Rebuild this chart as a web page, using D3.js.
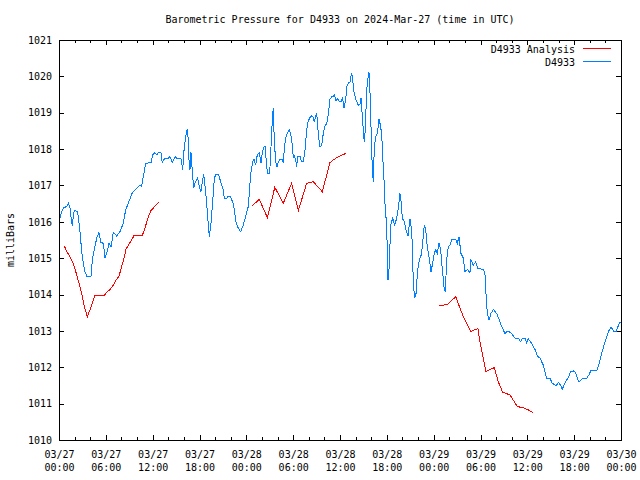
<!DOCTYPE html>
<html><head><meta charset="utf-8">
<script src="https://cdn.jsdelivr.net/npm/d3@7"></script>
<style>
body{margin:0;background:#fff}
svg{display:block;background:#fff}
text{font-family:"DejaVu Sans Mono","Liberation Mono",monospace;font-size:10px;fill:#000}
</style>
</head><body>
<svg id="c" width="640" height="480"></svg>
<script>
const titleText = "Barometric Pressure for D4933 on 2024-Mar-27 (time in UTC)";
const yLabelText = "milliBars";
const seriesNames = ["D4933 Analysis", "D4933"];
const seriesColors = ["#ff0000", "#0080ff"];
const yTickValues = d3.range(1010, 1022, 1);
const xMajorHours = d3.range(0, 73, 6);
const xMinorHours = d3.range(0, 73, 2).filter(h => h % 6 !== 0);
const startUTC = Date.UTC(2024, 2, 27, 0, 0);

// Station observations (hours after 03/27 00:00 UTC, millibars)
const blueHours = [0.13,0.35,0.64,0.99,1.19,1.41,1.63,1.76,1.83,2.05,2.34,2.47,2.69,2.91,3.11,3.33,3.55,4.10,4.27,4.52,4.83,5.12,5.38,5.68,5.89,6.11,6.41,6.66,6.96,7.39,7.81,8.24,8.54,8.88,9.39,9.95,10.38,10.59,10.80,11.11,11.79,12.00,12.21,12.52,12.72,13.07,13.23,13.49,14.00,14.22,14.51,14.86,15.21,15.63,15.85,16.05,16.36,16.49,16.65,16.78,16.91,17.13,17.26,17.42,17.77,17.97,18.19,18.36,18.54,18.70,18.92,19.13,19.26,19.47,19.69,19.90,20.11,20.41,20.72,21.05,21.18,21.48,21.69,
21.91,22.33,22.68,22.97,23.28,23.61,23.96,24.25,24.47,24.60,
24.82,24.98,25.20,25.40,25.66,25.88,26.04,26.17,26.39,26.61,
26.74,26.94,27.03,27.20,27.33,27.45,27.58,27.76,27.93,28.09,
28.31,28.61,28.73,28.86,29.04,29.25,29.50,29.68,29.89,30.02,
30.14,30.32,30.45,30.58,30.87,31.09,31.30,31.52,31.73,31.94,
32.16,32.37,32.58,32.71,32.89,33.02,33.14,33.31,33.44,33.66,
33.86,34.04,34.30,34.50,34.72,34.94,35.14,35.27,35.49,35.65,
35.87,36.13,36.34,36.51,36.73,36.86,37.06,37.28,37.50,37.63,
37.79,38.05,38.34,38.56,38.69,38.86,38.98,39.11,39.24,39.42,
39.58,39.71,39.84,39.97,40.14,40.27,40.39,40.57,40.78,41.00,
41.12,41.34,
41.47,41.64,41.76,41.98,42.15,42.31,42.49,42.75,43.01,43.26,
43.47,43.68,43.81,43.98,44.24,44.45,44.71,44.97,45.10,45.26,
45.39,45.57,45.74,45.95,46.16,46.41,46.59,46.80,46.98,47.18,
47.40,47.66,47.87,48.08,48.26,48.46,48.68,48.90,49.10,49.32,
49.49,49.67,49.87,50.09,50.31,50.82,51.03,51.24,51.50,51.80,
52.01,52.31,52.65,52.78,53.08,53.38,53.64,54.36,54.57,54.70,
54.87,55.09,55.34,55.64,56.07,56.41,56.71,57.14,57.35,57.65,
57.87,58.12,58.42,58.84,59.15,59.40,59.70,59.91,60.12,60.56,
60.98,61.28,61.62,62.04,62.48,62.90,63.20,63.54,63.76,63.97,
64.27,64.48,64.69,65.04,65.34,65.55,65.89,66.19,66.40,66.62,
66.87,67.09,67.60,67.90,68.12,68.88,69.09,69.31,69.65,69.95,
70.24,70.50,70.72,70.93,71.10,71.36,71.52,71.78,72.00];
const blueValues = [1016.10,1016.28,1016.39,1016.42,1016.51,1016.37,1015.96,1015.91,1016.23,1016.31,1016.28,1016.14,1015.73,1015.18,1014.86,1014.63,1014.51,1014.51,1014.95,1015.23,1015.55,1015.71,1015.43,1015.41,1015.00,1015.13,1015.41,1015.30,1015.71,1015.61,1015.73,1015.96,1016.33,1016.51,1016.80,1016.92,1017.01,1016.97,1017.24,1017.61,1017.63,1017.84,1017.90,1017.84,1017.91,1017.90,1017.63,1017.73,1017.75,1017.79,1017.63,1017.79,1017.73,1017.73,1017.43,1018.07,1018.51,1018.53,1017.70,1017.43,1017.91,1017.24,1016.92,1017.06,1017.20,1016.97,1016.83,1017.10,1017.31,1017.01,1016.51,1015.91,1015.59,1015.96,1016.55,1017.20,1017.31,1017.31,1017.10,1016.88,1016.63,1016.63,1016.71,
1016.71,1016.51,1016.00,1015.82,1015.73,1015.91,1016.19,1016.42,1017.06,1017.38,
1017.65,1017.72,1017.56,1017.84,1017.90,1017.63,1017.88,1018.02,1018.09,1017.52,
1017.32,1017.32,1017.50,1018.23,1018.82,1019.12,1018.25,1017.65,1017.52,1017.65,
1017.72,1017.72,1017.61,1017.99,1018.30,1018.43,1018.53,1018.43,1018.11,1017.75,
1017.81,1017.72,1017.52,1017.79,1017.81,1017.65,1017.65,1017.98,1018.53,1018.78,
1018.87,1018.91,1018.87,1018.75,1018.91,1019.00,1018.62,1018.25,1018.05,1018.11,
1018.43,1018.62,1018.71,1018.94,1019.37,1019.44,1019.44,1019.49,1019.33,1019.40,
1019.32,1019.30,1019.40,1019.14,1019.35,1019.72,1019.81,1019.85,1020.10,1019.90,
1019.58,1019.35,1019.21,1019.24,1019.40,1018.89,1018.53,1018.20,1018.53,1019.63,
1019.95,1020.13,1019.58,1018.62,1017.43,1017.10,1018.02,1018.34,1018.43,1018.82,
1018.71,1018.43,
1017.79,1017.15,1016.51,1015.87,1014.40,1014.77,1015.91,1016.10,1015.91,1016.10,
1016.37,1016.78,1016.60,1016.10,1016.00,1015.78,1015.61,1016.07,1015.87,1015.45,
1014.31,1013.90,1014.03,1014.68,1014.95,1015.09,1015.41,1015.91,1015.78,1015.32,
1015.04,1014.63,1014.86,1015.13,1015.23,1015.13,1015.41,1015.23,1014.72,1014.22,
1014.08,1014.95,1015.32,1015.36,1015.52,1015.52,1015.41,1015.59,1015.13,1015.00,
1014.63,1014.69,1014.60,1014.95,1014.81,1014.90,1014.72,1014.69,1014.58,1014.03,
1013.48,1013.30,1013.48,1013.59,1013.48,1013.30,1013.12,1012.93,1012.98,1012.98,
1012.95,1012.89,1012.80,1012.80,1012.70,1012.80,1012.80,1012.68,1012.78,1012.66,
1012.49,1012.31,1012.25,1012.06,1011.70,1011.70,1011.56,1011.51,1011.51,1011.58,
1011.51,1011.39,1011.51,1011.65,1011.76,1011.88,1011.90,1011.85,1011.70,1011.59,
1011.65,1011.70,1011.70,1011.79,1011.90,1011.90,1012.02,1012.20,1012.48,1012.70,
1012.89,1013.03,1013.10,1013.04,1012.98,1012.98,1013.07,1013.21,1013.25];

// Analysis series (null marks a gap between runs)
const redHours = [0.68,0.99,1.28,1.63,1.96,2.27,2.56,2.91,3.24,3.63,3.97,4.32,4.61,5.76,6.11,6.53,6.96,7.26,7.69,8.03,8.37,8.58,8.88,9.22,9.61,10.67,10.93,11.24,11.53,11.79,12.13,12.39,12.77,
 18.0,
 24.76,25.66,26.69,27.65,28.73,29.81,30.66,31.73,32.58,33.73,34.72,35.14,35.78,36.73,
 42.0,
 48.72,49.23,49.79,50.82,51.80,52.74,53.29,53.68,53.93,54.70,55.22,55.77,56.28,56.84,57.27,57.78,58.71,59.40,60.12,60.76];
const redValues = [1015.34,1015.18,1015.09,1014.95,1014.77,1014.54,1014.31,1014.03,1013.67,1013.39,1013.58,1013.80,1013.97,1013.97,1014.06,1014.14,1014.26,1014.38,1014.51,1014.77,1015.04,1015.24,1015.36,1015.47,1015.62,1015.62,1015.78,1015.99,1016.19,1016.31,1016.39,1016.46,1016.54,
 null,
 1016.44,1016.62,1016.12,1016.95,1016.51,1017.06,1016.31,1017.06,1017.10,1016.83,1017.63,1017.70,1017.79,1017.88,
 null,
 1013.70,1013.71,1013.73,1013.94,1013.39,1012.98,1013.04,1013.06,1012.70,1011.88,1011.94,1011.99,1011.60,1011.31,1011.28,1011.24,1010.92,1010.89,1010.83,1010.75];

const toDate = h => new Date(startUTC + h * 3600000);
const L = 59, R = 621, T = 40, B = 440;

const svg = d3.select("#c");
const x = d3.scaleUtc().domain([toDate(0), toDate(72)]).range([L, R]);
const y = d3.scaleLinear().domain([1010, 1021]).range([B, T]);

const noDomain = g => g.select(".domain").remove();

// frame
svg.append("rect").attr("x", L + 0.5).attr("y", T + 0.5)
  .attr("width", R - L).attr("height", B - T)
  .attr("fill", "none").attr("stroke", "#000").attr("shape-rendering", "crispEdges");

// bottom major with labels
const fmtDay = d3.utcFormat("%m/%d"), fmtHour = d3.utcFormat("%H:%M");
const gB = svg.append("g").attr("transform", `translate(0,${B})`)
  .call(d3.axisBottom(x).tickValues(xMajorHours.map(toDate)).tickSizeInner(-5).tickSizeOuter(0).tickPadding(10).tickFormat(""))
  .call(noDomain);
gB.selectAll(".tick text").each(function(d) {
  const el = d3.select(this);
  el.attr("dy", null).attr("y", 0);
  el.append("tspan").attr("x", 0).attr("y", 17.5).text(fmtDay(d));
  el.append("tspan").attr("x", 0).attr("y", 30.5).text(fmtHour(d));
});
svg.append("g").attr("transform", `translate(0,${B})`)
  .call(d3.axisBottom(x).tickValues(xMinorHours.map(toDate)).tickSizeInner(-3).tickSizeOuter(0).tickFormat(""))
  .call(noDomain);
svg.append("g").attr("transform", `translate(0,${T})`)
  .call(d3.axisTop(x).tickValues(xMajorHours.map(toDate)).tickSizeInner(-5).tickSizeOuter(0).tickFormat(""))
  .call(noDomain);
svg.append("g").attr("transform", `translate(0,${T})`)
  .call(d3.axisTop(x).tickValues(xMinorHours.map(toDate)).tickSizeInner(-3).tickSizeOuter(0).tickFormat(""))
  .call(noDomain);

// y axes
svg.append("g").attr("transform", `translate(${L},0)`)
  .call(d3.axisLeft(y).tickValues(yTickValues).tickSizeInner(-5).tickSizeOuter(0).tickPadding(7).tickFormat(d3.format("d")))
  .call(noDomain);
svg.append("g").attr("transform", `translate(${R},0)`)
  .call(d3.axisRight(y).tickValues(yTickValues).tickSizeInner(-5).tickSizeOuter(0).tickFormat(""))
  .call(noDomain);
svg.selectAll(".tick line").attr("shape-rendering", "crispEdges");

// titles
svg.append("text").attr("x", (L + R) / 2).attr("y", 23).attr("text-anchor", "middle").text(titleText);
svg.append("text").attr("transform", "translate(14,240) rotate(-90)").attr("text-anchor", "middle").text(yLabelText);

// lines
const line = d3.line().defined(d => d.v != null).x(d => x(d.t)).y(d => y(d.v));
const redData = redHours.map((h, i) => ({t: toDate(h), v: redValues[i]}));
const blueData = blueHours.map((h, i) => ({t: toDate(h), v: blueValues[i]}));
svg.append("path").datum(redData).attr("d", line)
  .attr("fill", "none").attr("stroke", seriesColors[0]).attr("stroke-width", 1)
  .attr("shape-rendering", "crispEdges");
svg.append("path").datum(blueData).attr("d", line)
  .attr("fill", "none").attr("stroke", seriesColors[1]).attr("stroke-width", 1)
  .attr("shape-rendering", "crispEdges");

// legend
seriesNames.forEach((name, i) => {
  const yy = 49 + i * 13;
  svg.append("text").attr("x", 575).attr("y", yy + 4).attr("text-anchor", "end").text(name);
  svg.append("line").attr("x1", 583).attr("x2", 611).attr("y1", yy - 0.5).attr("y2", yy - 0.5)
    .attr("stroke", seriesColors[i]).attr("stroke-width", 1).attr("shape-rendering", "crispEdges");
});
</script>
</body></html>
